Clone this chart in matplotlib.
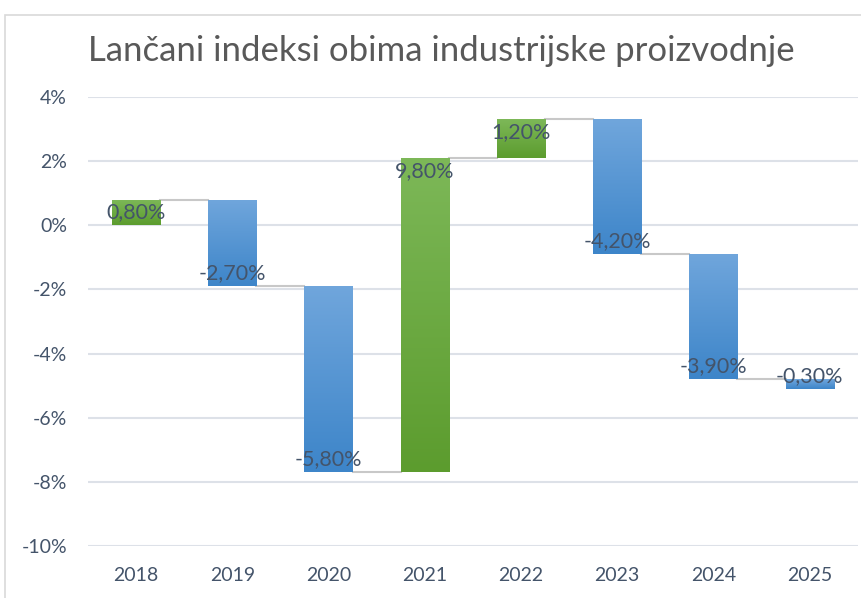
import numpy as np
import matplotlib.pyplot as plt
from matplotlib.colors import LinearSegmentedColormap
from matplotlib.patches import Rectangle

## Data: chain indices of industrial production (% change year over year)
years = ['2018', '2019', '2020', '2021', '2022', '2023', '2024', '2025']
changes = [0.8, -2.7, -5.8, 9.8, 1.2, -4.2, -3.9, -0.3]
labels = ['0,80%', '-2,70%', '-5,80%', '9,80%', '1,20%', '-4,20%', '-3,90%', '-0,30%']
yticks = [4, 2, 0, -2, -4, -6, -8, -10]

plt.rcParams['font.family'] = ['Lato', 'DejaVu Sans']

fig = plt.figure(figsize=(8.62, 5.98), dpi=100)
ax = fig.add_axes([0.102, 0.087, 0.893, 0.751])

ends = np.cumsum(changes)
starts = ends - np.array(changes)
x = np.arange(len(years))
width = 0.5

green_cmap = LinearSegmentedColormap.from_list('g', ['#5c9c2e', '#7db858'])
blue_cmap = LinearSegmentedColormap.from_list('b', ['#3d85c9', '#70a6dc'])

bars = ax.bar(x, changes, bottom=starts, width=width,
              color=['#6aab3f' if c > 0 else '#5597d6' for c in changes],
              edgecolor='none', zorder=2)

## gradient fill clipped to each bar
grad = np.linspace(0, 1, 256).reshape(-1, 1)
for i, b in enumerate(bars):
    x0 = b.get_x()
    lo = min(starts[i], ends[i])
    hi = max(starts[i], ends[i])
    im = ax.imshow(grad, extent=[x0, x0 + width, lo, hi], origin='lower', aspect='auto',
                   cmap=green_cmap if changes[i] > 0 else blue_cmap, zorder=3)
    im.set_clip_path(b)

## connector lines
for i in range(len(years) - 1):
    ax.plot([x[i] + width / 2, x[i + 1] - width / 2], [ends[i], ends[i]],
            color='#c8c8c8', lw=1.5, zorder=1.5)

## data labels, inside the end of each bar
for i in range(len(years)):
    off = -13 if changes[i] > 0 else 13
    ax.annotate(labels[i], (x[i], ends[i]), xytext=(0, off), textcoords='offset pixels',
                ha='center', va='center', fontsize=15.5, color='#44546a', zorder=5)

ax.set_xlim(-0.5, len(years) - 0.5)
ax.set_ylim(-10, 4)
ax.set_yticks(yticks)
ax.set_yticklabels([str(t) + '%' for t in yticks])
ax.set_xticks(x)
ax.set_xticklabels(years)
ax.tick_params(axis='y', length=0, pad=15, labelsize=14, labelcolor='#44546a')
ax.tick_params(axis='x', length=0, pad=15, labelsize=14, labelcolor='#44546a')
ax.grid(axis='y', color='#dde1e8', lw=1.5, zorder=0)
ax.set_axisbelow(True)
for s in ax.spines.values():
    s.set_visible(False)

fig.text(0.512, 0.915, 'Lančani indeksi obima industrijske proizvodnje', ha='center', va='center',
         fontsize=25, color='#595959')

## chart border
fig.patches.append(Rectangle((0.006, -0.1), 1.2, 1.075, transform=fig.transFigure,
                             fill=False, edgecolor='#d9d9d9', lw=1.2))

fig.savefig('out.png', dpi=100)
